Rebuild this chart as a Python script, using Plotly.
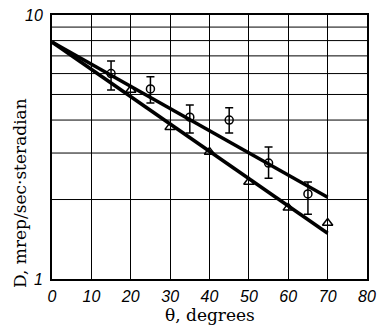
import plotly.graph_objects as go

# Measured dose rate vs. angle: circles (with error bars) and triangles
theta_circ = [15, 25, 35, 45, 55, 65]
dose_circ = [6.0, 5.25, 4.1, 4.0, 2.75, 2.1]
dose_circ_hi = [6.7, 5.83, 4.56, 4.45, 3.16, 2.33]
dose_circ_lo = [5.2, 4.64, 3.57, 3.57, 2.41, 1.76]

theta_tri = [20, 30, 40, 50, 60, 70]
dose_tri = [5.2, 3.76, 3.03, 2.33, 1.86, 1.63]

# Fitted straight lines on the semi-log plot
fit_theta = [0, 70]
fit_upper = [7.9, 2.04]
fit_lower = [7.9, 1.49]

x_ticks = [0, 10, 20, 30, 40, 50, 60, 70, 80]
x_tick_text = ["0", "10", "20", "30", "40", "50", "60", "70", "80"]
y_ticks = [1, 10]
y_tick_text = ["1", "10"]
y_grid = [2, 3, 4, 5, 6, 7, 8, 9]

fig = go.Figure()

for yv in fit_upper, fit_lower:
    fig.add_trace(go.Scatter(x=fit_theta, y=yv, mode="lines",
                             line=dict(color="black", width=3.5),
                             showlegend=False, hoverinfo="skip"))

fig.add_trace(go.Scatter(
    x=theta_circ, y=dose_circ, mode="markers",
    marker=dict(symbol="circle-open", size=8, color="black",
                line=dict(width=1.5, color="black")),
    error_y=dict(type="data", symmetric=False,
                 array=[h - d for h, d in zip(dose_circ_hi, dose_circ)],
                 arrayminus=[d - l for d, l in zip(dose_circ, dose_circ_lo)],
                 color="black", thickness=1.5, width=4),
    showlegend=False))

fig.add_trace(go.Scatter(
    x=theta_tri, y=dose_tri, mode="markers",
    marker=dict(symbol="triangle-up-open", size=9, color="black",
                line=dict(width=1.5, color="black")),
    showlegend=False))

# Horizontal grid lines at 2..9 on the log axis
for g in y_grid:
    fig.add_shape(type="line", xref="x", yref="y", x0=0, x1=80, y0=g, y1=g,
                  line=dict(color="black", width=1), layer="below")

tick_font = dict(family="Liberation Sans", size=16, color="black", style="italic")
fig.update_xaxes(range=[0, 80], tickvals=x_ticks, ticktext=x_tick_text,
                 showgrid=True, gridcolor="black", gridwidth=1,
                 showline=True, linecolor="black", linewidth=2, mirror=True,
                 ticks="", tickfont=tick_font, zeroline=False,
                 ticklabelstandoff=2, automargin=False)
fig.update_yaxes(type="log", range=[0, 1], tickvals=y_ticks, ticktext=y_tick_text,
                 showgrid=False, showline=True, linecolor="black", linewidth=2,
                 mirror=True, ticks="", tickfont=tick_font, zeroline=False,
                 ticklabelstandoff=4, automargin=False)

title_font = dict(family="DejaVu Serif", size=17, color="black")
fig.add_annotation(text="D, mrep/sec·steradian", textangle=-90,
                   xref="paper", yref="paper", x=-0.102, y=0.325,
                   xanchor="center", yanchor="middle",
                   showarrow=False, font=title_font)
fig.add_annotation(text="θ, degrees",
                   xref="paper", yref="paper", x=0.5, y=-0.138,
                   xanchor="center", yanchor="middle",
                   showarrow=False, font=title_font)

fig.update_layout(width=379, height=327,
                  margin=dict(l=52, r=12, t=15, b=48, autoexpand=False),
                  paper_bgcolor="white", plot_bgcolor="white",
                  font=dict(family="Liberation Sans", color="black"))

fig.write_html("out.html")
